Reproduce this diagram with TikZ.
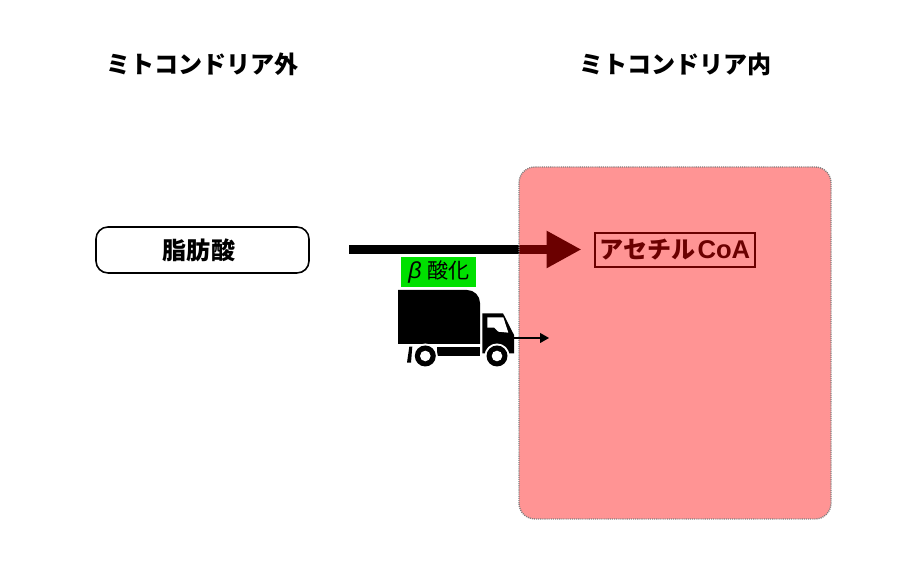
\documentclass[tikz,border=0pt]{standalone}
\usepackage{fontspec}
\usepackage{xcolor}
\setmainfont{Noto Sans CJK JP}
\newfontfamily\betafont{Liberation Sans}
\usetikzlibrary{arrows.meta}
\definecolor{mitored}{RGB}{255,0,0}
\definecolor{betagreen}{RGB}{0,224,0}
\tikzset{
  mhead/.style={font=\bfseries\fontsize{6.85}{8}\selectfont, text=black, inner sep=0pt},
  mfatty/.style={draw=black, fill=white, line width=0.45pt, rounded corners=3.4pt, minimum width=2.13cm, minimum height=0.46cm, inner sep=0pt, font=\bfseries\fontsize{6.85}{8}\selectfont},
  macetyl/.style={draw=black, line width=0.45pt, minimum width=1.60cm, minimum height=0.34cm, inner sep=0pt, font=\bfseries\fontsize{6.85}{8}\selectfont},
  mbeta/.style={fill=betagreen, minimum width=0.75cm, minimum height=0.30cm, inner sep=0pt, font=\fontsize{6}{7}\selectfont},
  mroom/.style={fill=mitored, fill opacity=0.42, draw=black!50, dash pattern=on 0.3pt off 0.3pt, line width=0.4pt, rounded corners=4.5pt},
  mbig/.style={line width=0.09cm, draw=black, -{Triangle[length=0.35cm,width=0.35cm]}},
  mthin/.style={line width=0.33pt, draw=black, -{Triangle[length=0.09cm,width=0.10cm]}},
  mtruck/.style={fill=black, draw=none},
  mgap/.style={fill=white, draw=none},
}
\begin{document}
\begin{tikzpicture}
\useasboundingbox (0,0) rectangle (9.06,5.70);
\node[mhead] (outside) at (2.025,5.06) {ミトコンドリア外};
\node[mhead] (inside) at (6.755,5.06) {ミトコンドリア内};
\node[mfatty] (fatty) at (2.025,3.20) {脂肪酸\kern0.07cm\relax};
\node[macetyl] (acetyl) at (6.75,3.20) {アセチル\hspace{0.02cm}{\betafont\bfseries\fontsize{7.3}{8}\selectfont CoA}};
\coordinate (bigstart) at (3.49,3.205);
\coordinate (bigend) at (5.815,3.205);
% the big arrow and the label stay under the red room
\draw[mbig] (bigstart) -- (bigend);
\draw[mroom] (5.19,0.51) rectangle (8.31,4.03);
\node[mbeta] (beta) at (4.385,2.98) {\kern0.01cm{\betafont\itshape\fontsize{6.6}{7}\selectfont β}\kern0.06cm 酸化};
% truck
\draw[mtruck] (3.98,2.26) -- (4.80,2.26) -- (4.80,2.67) arc (0:90:0.13) -- (3.98,2.80) -- cycle;
\draw[mtruck] (4.823,2.167) -- (4.823,2.567) -- (5.03,2.567) -- (5.14,2.35) -- (5.14,2.167) -- cycle;
\draw[mgap] (4.873,2.423) -- (4.873,2.527) -- (5.033,2.527) -- (5.083,2.373) -- (4.983,2.383) -- (4.943,2.423) -- cycle;
\draw[mtruck] (4.367,2.143) rectangle (4.80,2.233);
\draw[mtruck] (4.093,2.233) -- (4.123,2.233) -- (4.11,2.073) -- (4.07,2.073) -- cycle;
\draw[mgap] (4.253,2.14) circle (0.125);
\draw[mgap] (4.97,2.14) circle (0.125);
\draw[mtruck] (4.253,2.14) circle (0.105);
\draw[mtruck] (4.97,2.14) circle (0.105);
\draw[mgap] (4.253,2.14) circle (0.053);
\draw[mgap] (4.97,2.14) circle (0.053);
\coordinate (thinstart) at (5.14,2.32);
\coordinate (thinend) at (5.49,2.32);
\draw[mthin] (thinstart) -- (thinend);
\end{tikzpicture}
\end{document}
